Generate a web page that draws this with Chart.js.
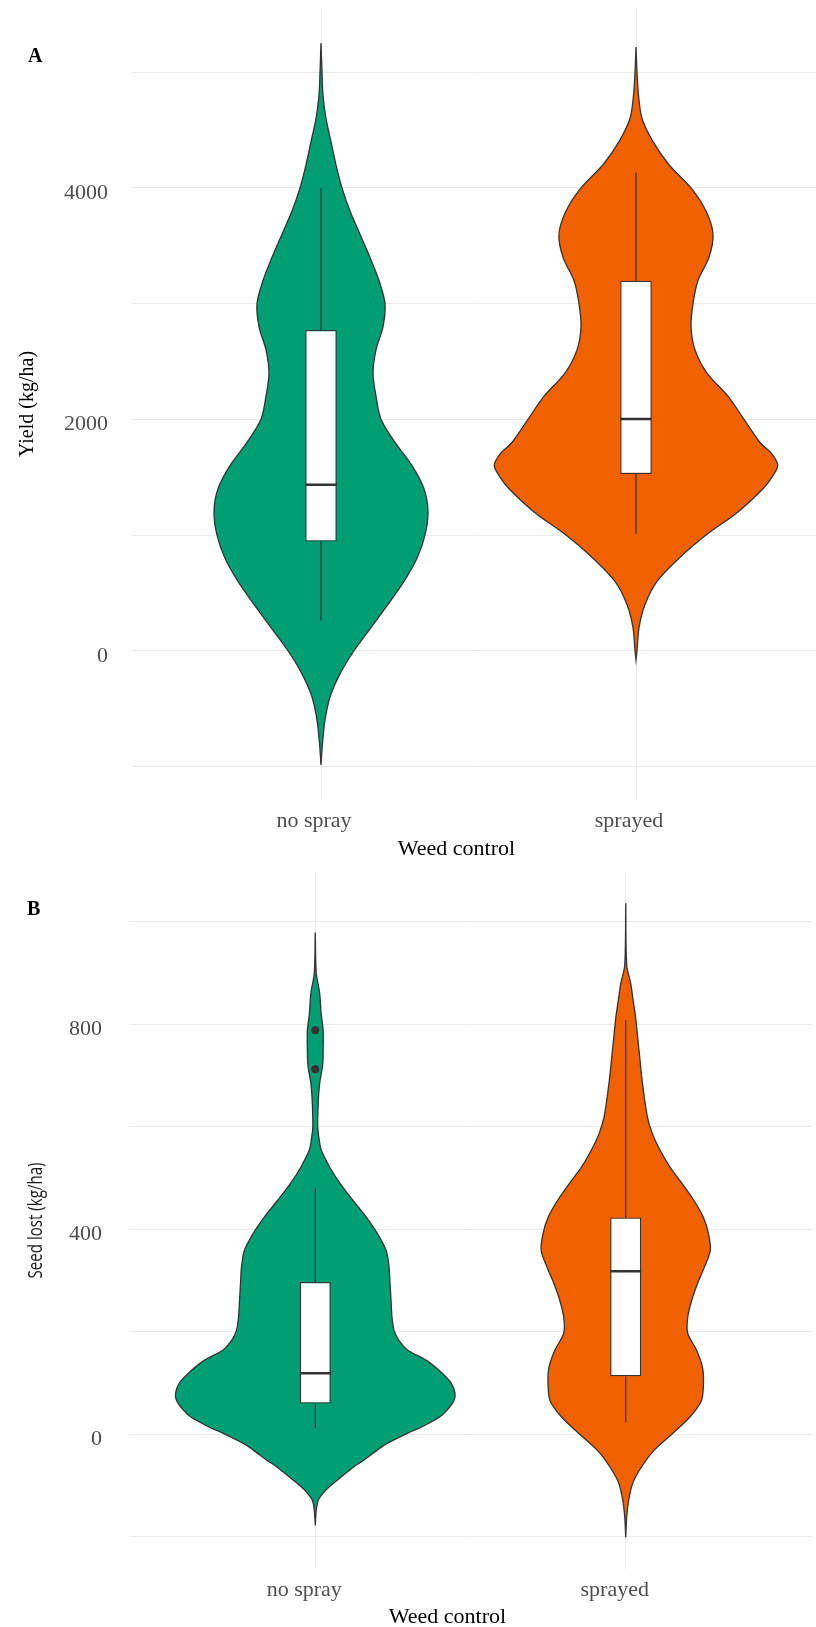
<!DOCTYPE html>
<html>
<head>
<meta charset="utf-8">
<title>Weed control: yield and seed lost</title>
<script src="https://cdn.jsdelivr.net/npm/chart.js@4.4.1/dist/chart.umd.min.js"></script>
<style>
  html, body { margin: 0; padding: 0; background: #ffffff; overflow: hidden; }
  #page { position: relative; width: 816px; height: 1627px; overflow: hidden; background: #ffffff; }
  #yieldChart { position: absolute; left: 0; top: 0; }
  #seedChart { position: absolute; left: 0; top: 860px; }
</style>
</head>
<body>
<div id="page">
  <canvas id="yieldChart" width="826" height="860"></canvas>
  <canvas id="seedChart" width="816" height="767"></canvas>
</div>
<script>
// ---------------------------------------------------------------
// Data
// ---------------------------------------------------------------
const groups = ['no spray', 'sprayed'];
const violinColors = ['#009e73', '#f26100'];

// Panel A: yield (kg/ha). Violin outline = relative density at each yield level.
const yieldLevelsNoSpray = [5252, 5000, 4800, 4600, 4400, 4200, 4000, 3800, 3600, 3400, 3200, 3000,
  2800, 2600, 2400, 2200, 2000, 1800, 1600, 1400, 1200, 1000, 800, 600, 400, 200, 0,
  -200, -400, -600, -800, -988];
const yieldDensityNoSpray = [0, 1, 2, 5, 10, 15, 21, 29, 39, 49, 58, 64,
  62, 55, 52, 55, 60, 74, 91, 103, 107, 104, 96, 83, 67, 50, 33,
  19, 9, 4, 1.5, 0];
const yieldLevelsSprayed = [5217, 5000, 4800, 4600, 4400, 4200, 4000, 3800, 3600, 3400, 3200, 3000,
  2800, 2600, 2400, 2200, 2000, 1800, 1700, 1600, 1500, 1400, 1200, 1000, 800, 600, 400, 200, 0, -80];
const yieldDensitySprayed = [0, 1, 2.5, 6, 17, 33, 55, 70, 77, 73, 62, 57,
  55, 59, 71, 92, 108, 124, 136, 141.75, 136, 127, 102, 70, 43, 21, 9, 3, 1, 0];
// Box summaries: lower whisker, Q1, median, Q3, upper whisker
const yieldBoxNoSpray = [262, 944, 1434, 2772, 4000];
const yieldBoxSprayed = [1009, 1527, 2003, 3198, 4131];
const yieldOutliers = [];
const yieldGrid = [-1000, 0, 1000, 2000, 3000, 4000, 5000];
const yieldTickLabels = [0, 2000, 4000];

// Panel B: seed lost (kg/ha)
const seedLevelsNoSpray = [979, 900, 860, 820, 788, 750, 720, 685, 646, 600, 575, 555, 520, 490,
  457, 423, 392, 359, 326, 294, 261, 228, 203, 183, 164, 144, 119, 100, 80, 66, 47, 33, 14, 2,
  -18, -31, -51, -64, -84, -103, -115, -129, -148, -178];
const seedDensityNoSpray = [0, 1, 4.5, 6, 8, 8, 7.5, 4.5, 3, 2.5, 4, 6, 15, 25,
  38, 52, 63, 72, 75, 76, 77, 78, 80, 85, 94, 113, 129, 138, 142, 141, 134, 126, 108, 94,
  73, 63, 49, 39, 26, 14, 8, 3, 1, 0];
const seedLevelsSprayed = [1036, 915, 880, 847, 814, 749, 685, 619, 587, 554, 521, 490, 457, 423,
  392, 359, 326, 294, 261, 228, 197, 164, 131, 100, 66, 33, 2, -31, -64, -96, -129, -162, -201];
const seedDensitySprayed = [0, 1, 5, 7.5, 10, 13.5, 17, 22, 27, 35, 45, 57, 69, 79,
  84, 86, 80, 73, 67, 63, 63, 72, 78, 79, 77, 65, 48, 29, 16, 7, 3, 1, 0];
const seedBoxNoSpray = [12, 60, 119, 297, 480];
const seedBoxSprayed = [23, 113, 318, 423, 808];
const seedOutliers = [{ group: 1, value: 712 }, { group: 1, value: 788 }];
const seedGrid = [-200, 0, 200, 400, 600, 800, 1000];
const seedTickLabels = [0, 400, 800];

// ---------------------------------------------------------------
// Styling
// ---------------------------------------------------------------
const INK = '#333333';
const GRID = '#ebebeb';
const TICK_TEXT = '#4d4d4d';
const SERIF = '"Liberation Serif", "Times New Roman", serif';
const VIOLIN_HALF_WIDTH = 0.45;   // widest violin of a panel, in category units
const BOX_WIDTH = 0.1;            // box width, in category units

Chart.defaults.font.family = SERIF;

// ---------------------------------------------------------------
// Dataset builders
// ---------------------------------------------------------------
function violinDataset(pos, levels, density, dMax, color) {
  const k = VIOLIN_HALF_WIDTH / dMax;
  const right = levels.map((v, i) => ({ x: pos + density[i] * k, y: v }));
  const left = levels.map((v, i) => ({ x: pos - density[i] * k, y: v })).reverse();
  return {
    type: 'scatter',
    data: right.concat(left),
    showLine: true,
    fill: 'shape',
    backgroundColor: color,
    borderColor: INK,
    borderWidth: 1.3,
    pointRadius: 0,
    tension: 0.3,
    order: 5
  };
}

function whiskerDataset(pos, box) {
  return {
    type: 'scatter',
    data: [{ x: pos, y: box[4] }, { x: pos, y: box[3] }, { x: pos, y: null },
           { x: pos, y: box[1] }, { x: pos, y: box[0] }],
    showLine: true,
    spanGaps: false,
    fill: false,
    borderColor: INK,
    borderWidth: 1.2,
    pointRadius: 0,
    order: 4
  };
}

function boxDataset(boxes) {
  return {
    type: 'bar',
    data: boxes.map((b, i) => ({ x: i + 1, y: [b[1], b[3]] })),
    backgroundColor: '#ffffff',
    borderColor: INK,
    borderWidth: 1.3,
    borderSkipped: false,
    categoryPercentage: 1,
    barPercentage: BOX_WIDTH,
    order: 3
  };
}

function medianDataset(boxes) {
  const pts = [];
  boxes.forEach((b, i) => {
    if (i > 0) pts.push({ x: i + 1 - BOX_WIDTH / 2, y: null });
    pts.push({ x: i + 1 - BOX_WIDTH / 2, y: b[2] }, { x: i + 1 + BOX_WIDTH / 2, y: b[2] });
  });
  return {
    type: 'scatter',
    data: pts,
    showLine: true,
    spanGaps: false,
    fill: false,
    borderColor: INK,
    borderWidth: 2.4,
    pointRadius: 0,
    order: 2
  };
}

function outlierDataset(outliers) {
  return {
    type: 'scatter',
    data: outliers.map(o => ({ x: o.group, y: o.value })),
    showLine: false,
    pointRadius: 4,
    pointBackgroundColor: INK,
    pointBorderColor: INK,
    pointBorderWidth: 0,
    order: 1
  };
}

// Panel letter and axis titles
const panelText = {
  id: 'panelText',
  afterDraw(chart, args, o) {
    const ctx = chart.ctx;
    const area = chart.chartArea;
    ctx.save();
    ctx.fillStyle = '#000000';
    ctx.font = 'bold 20px ' + SERIF;
    ctx.textAlign = 'left';
    ctx.textBaseline = 'alphabetic';
    ctx.fillText(o.letter, o.letterX, o.letterBaseline);

    ctx.font = o.xTitleFont;
    ctx.textAlign = 'center';
    ctx.fillText(o.xTitle, (area.left + area.right) / 2 + o.xTitleShift, o.xTitleBaseline);

    ctx.translate(o.yTitleX, (area.top + area.bottom) / 2);
    ctx.rotate(-Math.PI / 2);
    ctx.font = o.yTitleFont;
    ctx.fillStyle = o.yTitleColor;
    ctx.textAlign = 'center';
    ctx.textBaseline = 'middle';
    if (o.yTitleLength) {
      const w = ctx.measureText(o.yTitle).width;
      ctx.scale(o.yTitleLength / w, 1);
    }
    ctx.fillText(o.yTitle, 0, 0);
    ctx.restore();
  }
};

function makePanel(canvasId, p) {
  const dMax = Math.max(...p.density[0], ...p.density[1]);
  const datasets = [];
  groups.forEach((g, i) => {
    datasets.push(violinDataset(i + 1, p.levels[i], p.density[i], dMax, violinColors[i]));
    datasets.push(whiskerDataset(i + 1, p.boxes[i]));
  });
  datasets.push(boxDataset(p.boxes));
  datasets.push(medianDataset(p.boxes));
  datasets.push(outlierDataset(p.outliers));

  return new Chart(document.getElementById(canvasId), {
    type: 'scatter',
    data: { datasets },
    plugins: [panelText],
    options: {
      responsive: false,
      devicePixelRatio: 1,
      animation: false,
      events: [],
      layout: { padding: { top: p.padTop, right: 1, bottom: 0, left: 0 } },
      plugins: {
        legend: { display: false },
        tooltip: { enabled: false },
        panelText: p.text
      },
      scales: {
        x: {
          type: 'linear',
          min: 0.4,
          max: 2.6,
          offset: false,
          afterBuildTicks: s => { s.ticks = groups.map((g, i) => ({ value: i + 1 })); },
          afterFit: s => { s.height = p.xAxisHeight; s.paddingLeft = 0; s.paddingRight = 0; },
          ticks: {
            callback: v => groups[v - 1] ?? '',
            font: { size: 22 },
            color: TICK_TEXT,
            padding: 8,
            labelOffset: p.xLabelOffset,
            maxRotation: 0,
            autoSkip: false
          },
          grid: { color: GRID, lineWidth: 1, drawTicks: false, offset: false },
          border: { display: false }
        },
        y: {
          type: 'linear',
          min: p.yMin,
          max: p.yMax,
          afterBuildTicks: s => { s.ticks = p.grid.map(v => ({ value: v })); },
          afterFit: s => { s.width = p.yAxisWidth; s.paddingTop = 0; s.paddingBottom = 0; },
          ticks: {
            callback: v => p.tickLabels.includes(v) ? String(v) : '',
            font: { size: 22 },
            color: TICK_TEXT,
            padding: p.yTickPadding,
            labelOffset: 5,
            autoSkip: false
          },
          grid: { color: GRID, lineWidth: 1, drawTicks: false },
          border: { display: false }
        }
      }
    }
  });
}

function draw() {
  makePanel('yieldChart', {
    levels: [yieldLevelsNoSpray, yieldLevelsSprayed],
    density: [yieldDensityNoSpray, yieldDensitySprayed],
    boxes: [yieldBoxNoSpray, yieldBoxSprayed],
    outliers: yieldOutliers,
    grid: yieldGrid,
    tickLabels: yieldTickLabels,
    yMin: -1290, yMax: 5555,
    padTop: 8, xAxisHeight: 60, yAxisWidth: 132, yTickPadding: 24, xLabelOffset: -7,
    text: {
      letter: 'A', letterX: 28, letterBaseline: 62,
      xTitle: 'Weed control', xTitleFont: '22px ' + SERIF, xTitleShift: -22, xTitleBaseline: 855,
      yTitle: 'Yield (kg/ha)', yTitleFont: '20px ' + SERIF, yTitleColor: '#000000', yTitleX: 27.5
    }
  });
  makePanel('seedChart', {
    levels: [seedLevelsNoSpray, seedLevelsSprayed],
    density: [seedDensityNoSpray, seedDensitySprayed],
    boxes: [seedBoxNoSpray, seedBoxSprayed],
    outliers: seedOutliers,
    grid: seedGrid,
    tickLabels: seedTickLabels,
    yMin: -263, yMax: 1097,
    padTop: 12, xAxisHeight: 58, yAxisWidth: 129, yTickPadding: 27, xLabelOffset: -11,
    text: {
      letter: 'B', letterX: 27, letterBaseline: 55,
      xTitle: 'Weed control', xTitleFont: '22px ' + SERIF, xTitleShift: -23, xTitleBaseline: 763,
      yTitle: 'Seed lost (kg/ha)', yTitleFont: '20px "Open Sans", sans-serif', yTitleColor: '#1a1a1a',
      yTitleX: 36.5, yTitleLength: 116
    }
  });
}

const fontLoads = [
  document.fonts.load('22px "Liberation Serif"'),
  document.fonts.load('bold 20px "Liberation Serif"'),
  document.fonts.load('20px "Open Sans"')
];
Promise.all(fontLoads).then(draw, draw);
</script>
</body>
</html>
